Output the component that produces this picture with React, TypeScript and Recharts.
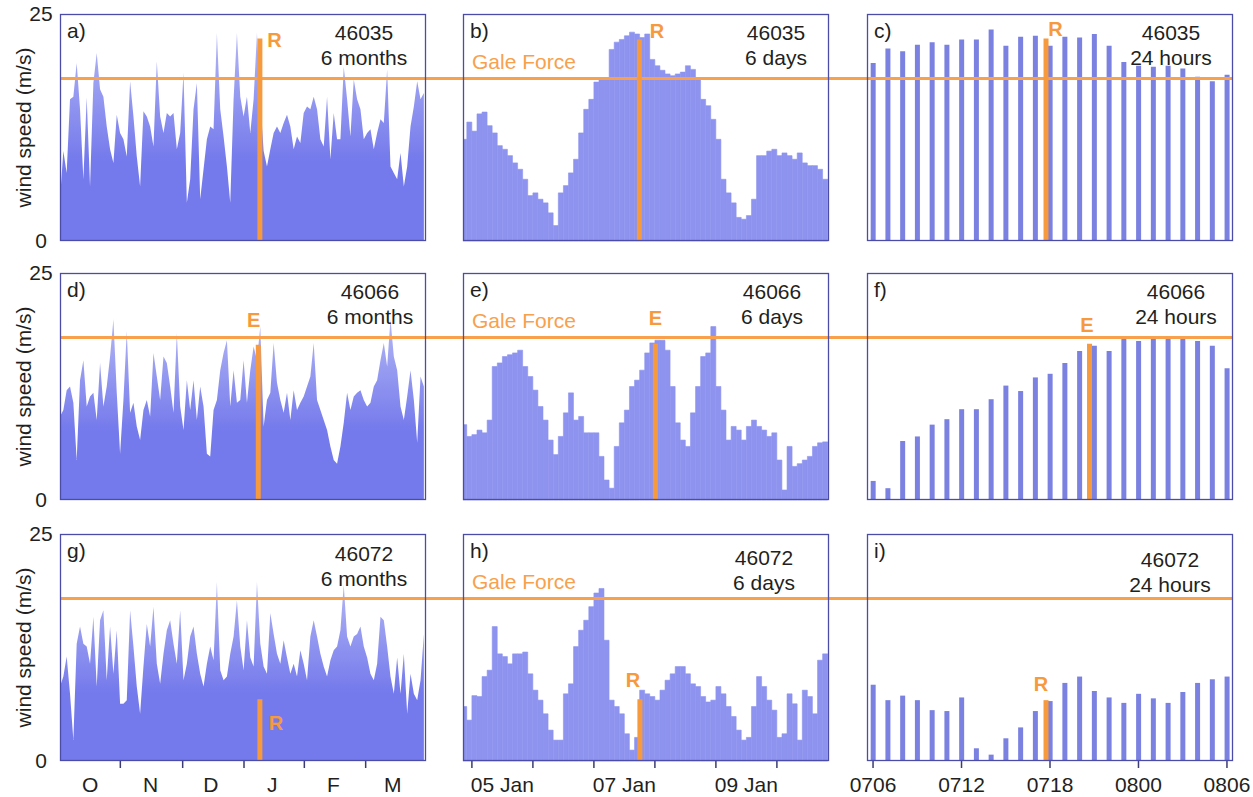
import React from "react";
import { ComposedChart, Area, Bar, XAxis, YAxis, ReferenceLine } from "recharts";

// wind speed (m/s), 6-month panels: one reading every ~1.66 days from 1 Oct
const MONTH_STEP = 1.66;
const MONTHS_46035 = [
  4.6, 9.9, 7.5, 15.6, 15.9, 19.6, 14.5, 6.8, 15.8, 6.0,
  17.4, 20.7, 16.7, 15.9, 12.6, 10.1, 8.6, 13.9, 11.9, 11.2,
  9.3, 17.6, 13.7, 9.3, 6.0, 14.3, 13.7, 12.6, 10.4, 19.8,
  13.7, 11.9, 14.1, 13.7, 14.1, 10.1, 11.9, 18.5, 4.2, 6.8,
  14.5, 17.4, 4.6, 7.9, 11.2, 12.6, 12.3, 22.9, 14.5, 11.5,
  8.2, 4.2, 15.6, 22.9, 15.9, 13.7, 15.9, 11.9, 15.6, 22.9,
  15.6, 9.9, 8.2, 10.1, 11.9, 12.6, 11.9, 13.0, 13.9, 12.6,
  10.1, 11.5, 10.8, 14.1, 14.8, 14.5, 15.9, 14.5, 11.2, 10.4,
  15.9, 9.0, 14.1, 11.2, 11.2, 19.2, 15.6, 11.5, 17.8, 15.6,
  14.5, 11.2, 11.9, 12.3, 10.1, 11.9, 13.4, 13.0, 18.9, 8.2,
  7.5, 6.8, 9.7, 6.0, 8.2, 12.6, 14.8, 17.6, 15.6, 16.3,
];
const MONTHS_46066 = [
  9.2, 9.9, 12.1, 12.5, 10.7, 4.4, 13.2, 15.4, 10.3, 11.4,
  11.8, 8.8, 15.1, 10.3, 12.5, 15.8, 19.9, 11.8, 5.1, 11.0,
  18.6, 9.6, 10.7, 8.1, 6.6, 9.9, 11.0, 9.2, 16.2, 13.6,
  11.0, 15.8, 15.1, 12.5, 9.6, 18.4, 10.3, 7.7, 13.2, 9.9,
  13.2, 8.8, 12.5, 10.3, 5.1, 4.8, 9.9, 11.0, 14.3, 16.2,
  17.6, 10.3, 14.3, 10.7, 11.0, 15.4, 10.7, 14.3, 16.9, 15.4,
  19.1, 8.1, 11.0, 11.8, 17.3, 12.9, 11.0, 9.6, 11.8, 8.8,
  12.1, 9.9, 10.7, 11.4, 12.5, 13.6, 17.3, 11.0, 9.9, 8.8,
  7.7, 5.9, 4.4, 4.0, 5.9, 8.5, 11.8, 9.9, 11.4, 11.8,
  12.1, 11.0, 10.3, 10.7, 12.5, 13.2, 15.4, 17.3, 14.7, 19.9,
  15.8, 14.3, 10.3, 8.8, 11.4, 14.3, 11.0, 6.3, 13.6, 12.5,
];
const MONTHS_46072 = [
  8.2, 9.3, 11.5, 7.4, 2.3, 12.9, 14.8, 12.9, 12.6, 10.7,
  15.9, 8.2, 15.5, 16.6, 8.9, 14.8, 9.6, 14.4, 6.3, 6.3,
  6.7, 16.6, 12.6, 8.2, 5.2, 10.4, 15.1, 12.6, 17.0, 10.7,
  8.5, 11.8, 14.4, 15.5, 12.9, 10.7, 16.6, 8.9, 10.7, 13.7,
  14.8, 11.8, 9.6, 8.2, 10.7, 12.6, 11.1, 19.7, 10.0, 8.9,
  9.3, 11.8, 13.7, 17.7, 12.6, 10.0, 15.5, 11.4, 10.4, 19.7,
  12.9, 10.4, 9.6, 16.3, 14.0, 11.8, 10.7, 13.3, 11.4, 9.6,
  10.7, 9.3, 12.2, 10.7, 8.9, 13.7, 15.5, 13.7, 11.8, 10.4,
  9.3, 11.1, 12.2, 12.6, 14.4, 19.4, 13.7, 12.6, 13.7, 14.0,
  14.8, 12.6, 11.4, 9.6, 8.9, 10.7, 15.9, 15.5, 12.6, 9.3,
  7.4, 11.4, 7.4, 11.8, 5.2, 9.6, 7.4, 6.7, 8.9, 14.0,
];

// 6-day panels: every 2 h, hours counted from 05 Jan 00:00
const DAY_T0 = -3;
const DAY_STEP = 2;
const DAYS_46035 = [
  11.2, 13.1, 12.1, 14.0, 14.2, 12.7, 11.9, 10.5, 10.1, 9.4,
  8.6, 7.9, 6.8, 5.0, 5.3, 4.6, 4.2, 3.1, 1.7, 5.3,
  6.1, 7.5, 9.0, 11.9, 14.5, 15.6, 17.5, 17.8, 17.8, 21.1,
  21.9, 22.2, 22.6, 23.0, 22.8, 22.4, 22.8, 20.0, 19.3, 18.8,
  18.4, 18.2, 18.4, 18.6, 19.3, 18.9, 17.8, 15.6, 14.9, 13.4,
  11.2, 6.8, 5.3, 4.2, 2.6, 2.4, 2.8, 4.6, 9.4, 9.4,
  9.9, 10.1, 9.4, 9.7, 9.4, 9.0, 9.7, 8.6, 8.3, 8.3,
  7.9, 6.8,
];
const DAYS_46066 = [
  8.3, 7.0, 7.2, 7.7, 7.4, 8.8, 14.7, 15.1, 15.8, 16.0,
  16.2, 16.5, 14.7, 13.6, 12.1, 10.3, 8.8, 6.6, 5.0, 7.0,
  9.6, 11.8, 8.8, 9.2, 7.4, 7.4, 7.4, 4.8, 2.2, 1.3,
  5.9, 8.5, 9.9, 12.5, 13.2, 14.3, 16.2, 17.3, 17.6, 17.6,
  16.5, 12.5, 8.5, 6.6, 5.9, 9.6, 12.5, 15.8, 16.2, 19.1,
  12.5, 9.9, 6.6, 8.1, 7.7, 6.6, 8.1, 8.8, 8.1, 7.7,
  7.0, 7.4, 4.4, 1.1, 5.9, 3.7, 4.0, 4.4, 4.8, 5.9,
  6.3, 6.4,
];
const DAYS_46072 = [
  6.0, 4.5, 7.2, 7.1, 9.3, 10.0, 14.8, 11.8, 11.5, 10.7,
  11.8, 11.8, 12.0, 9.6, 7.8, 6.7, 5.2, 3.4, 2.3, 2.3,
  7.4, 8.5, 12.6, 14.4, 15.5, 17.0, 18.5, 19.0, 13.3, 6.7,
  6.0, 5.2, 3.0, 1.2, 2.6, 7.8, 7.4, 7.1, 6.7, 7.8,
  8.9, 9.6, 10.4, 10.4, 9.6, 8.5, 8.2, 7.1, 6.5, 6.7,
  8.2, 7.4, 6.0, 4.9, 3.4, 2.3, 2.6, 6.0, 9.3, 8.2,
  6.7, 5.6, 2.6, 3.0, 7.4, 6.3, 2.3, 7.8, 7.1, 5.2,
  11.1, 11.8,
];

// 24-hour panels: hourly, 07 Jan 06:00 (=6) to 08 Jan 06:00 (=30)
const HOURS = [6, 7, 8, 9, 10, 11, 12, 13, 14, 15, 16, 17, 18, 19, 20, 21, 22, 23, 24, 25, 26, 27, 28, 29, 30];
const HOURS_46035 = [19.6, 21.2, 20.9, 21.6, 21.9, 21.6, 22.2, 22.2, 23.3, 21.5, 22.5, 22.6, 21.5, 22.5, 22.4, 22.8, 21.5, 19.7, 19.3, 19.2, 19.3, 19.0, 18.1, 17.6, 18.3];
const HOURS_46066 = [2.1, 1.3, 6.5, 7.0, 8.3, 8.9, 10.0, 10.0, 11.1, 12.6, 12.0, 13.5, 13.9, 15.1, 16.4, 17.0, 16.4, 17.9, 17.5, 17.9, 17.9, 18.0, 17.5, 17.0, 14.5];
const HOURS_46072 = [8.4, 6.7, 7.2, 6.7, 5.6, 5.5, 7.0, 1.4, 0.7, 2.5, 3.7, 5.5, 6.6, 8.6, 9.3, 7.7, 7.0, 6.4, 7.4, 6.9, 6.4, 7.6, 8.6, 9.0, 9.3];

const GALE_FORCE = 17.9;
const STATIONS = ["46035", "46066", "46072"];
const SPANS = ["6 months", "6 days", "24 hours"];
const LETTERS = [["a)", "b)", "c)"], ["d)", "e)", "f)"], ["g)", "h)", "i)"]];

const MONTH_STARTS = [30, 61, 91.5, 121.5, 152];
const MONTH_MIDS = [15, 45, 75, 105.5, 136, 165.5];
const MONTH_LABELS = ["O", "N", "D", "J", "F", "M"];
const DAY_STARTS = [0, 24, 48, 72, 96, 120];
const DAY_MIDS = [12, 60, 108];
const DAY_LABELS = ["05 Jan", "07 Jan", "09 Jan"];
const HOUR_TICKS = [6, 12, 18, 24, 30];
const HOUR_LABELS = ["0706", "0712", "0718", "0800", "0806"];

// event markers per panel: letter, time (panel x units), height (m/s)
const MARK_TEXT = [["R", "R", "R"], ["E", "E", "E"], ["R", "R", "R"]];
const MARK_X = [[99.4, 65.9, 17.73], [98.6, 72.2, 20.68], [99.4, 66.1, 17.73]];
const MARK_TOP = [[22.3, 22.2, 22.3], [17.1, 17.2, 17.2], [6.8, 6.8, 6.7]];

// layout
const COL_X = [60, 463, 867];
const ROW_Y = [14, 273, 534];
const BOX_W = 366;
const BOX_H = 227;
const Y_AXIS_W = 60;
const X_AXIS_H = 40;
const PAD_V = 14;
const PAD_SIDE = 30;
const FONT = '"Liberation Sans", Arial, sans-serif';
const INK = "#231f20";
const FRAME = "#4b4ba8";
const GALE = "#f8a04c";
const MARK = "#f7993d";
const FILLS = ["#7479ec", "#8d93ee", "#7a81e0"];
const MARK_OFFSET = [
  [[14.5, 8], [17.5, -1], [9.5, -3]],
  [[-4.5, -18], [0, -19], [-2.5, -12]],
  [[16, 31], [-7, -12], [-5, -9]],
];
const TEXT_POS = [
  [[304, 25.5], [313, 25.5], [304, 25.5]],
  [[310, 26], [309, 26], [309, 26]],
  [[304, 26.5], [301, 31], [303, 33]],
];

const MONTH_ROWS = [MONTHS_46035, MONTHS_46066, MONTHS_46072];
const DAY_ROWS = [DAYS_46035, DAYS_46066, DAYS_46072];
const HOUR_ROWS = [HOURS_46035, HOURS_46066, HOURS_46072];

const AXES = [
  { domain: [0, 182], starts: MONTH_STARTS, mids: MONTH_MIDS, labels: MONTH_LABELS },
  { domain: [-3.5, 140.5], starts: DAY_STARTS, mids: DAY_MIDS, labels: DAY_LABELS },
  { domain: [5.59, 30.41], starts: HOUR_TICKS, mids: HOUR_TICKS, labels: HOUR_LABELS },
];

function seriesFor(row: number, col: number) {
  if (col === 0) return MONTH_ROWS[row].map((v, i) => ({ t: i * MONTH_STEP, v }));
  if (col === 1) return DAY_ROWS[row].map((v, i) => ({ t: DAY_T0 + i * DAY_STEP, v }));
  return HOURS.map((h, i) => ({ t: h, v: HOUR_ROWS[row][i] }));
}

const BottomTick = (props: any) => {
  const { x, y, payload, starts, mids, labels } = props;
  const v = payload.value;
  const li = mids.indexOf(v);
  return (
    <g>
      {starts.includes(v) && <line x1={x} x2={x} y1={y} y2={y + 7} stroke="#3c3c70" strokeWidth={1.5} />}
      {li >= 0 && (
        <text x={x} y={y + 31} textAnchor="middle" fontSize={21} fontFamily={FONT} fill={INK}>
          {labels[li]}
        </text>
      )}
    </g>
  );
};

const YTick = (props: any) => (
  <text x={props.x - 11} y={props.y} dy={7} textAnchor="middle" fontSize={21} fontFamily={FONT} fill={INK}>
    {props.payload.value}
  </text>
);

const YTitle = (props: any) => {
  const vb = props.viewBox;
  const cx = vb.x + vb.width / 2 - 7;
  const cy = vb.y + vb.height / 2;
  return (
    <text x={cx} y={cy} transform={`rotate(-90 ${cx} ${cy})`} textAnchor="middle" dominantBaseline="central" fontSize={21} fontFamily={FONT} fill={INK}>
      wind speed (m/s)
    </text>
  );
};

const MarkLabel = (props: any) => {
  const vb = props.viewBox;
  return (
    <text x={vb.x + props.dx} y={vb.y + props.dy} textAnchor="middle" fontWeight="bold" fontSize={20} fontFamily={FONT} fill={MARK}>
      {props.text}
    </text>
  );
};

function Panel({ row, col }: { row: number; col: number }) {
  const left = COL_X[col];
  const ext = col < 2 ? COL_X[col + 1] - (left + BOX_W) : PAD_SIDE;
  const padL = col === 0 ? 0 : PAD_SIDE;
  const yW = col === 0 ? Y_AXIS_W : 0;
  const bottomRow = row === 2;
  const padB = bottomRow ? 0 : PAD_V;
  const axis = AXES[col];
  const ticks = Array.from(new Set([...axis.starts, ...axis.mids])).sort((a, b) => a - b);
  const data = seriesFor(row, col);
  const [mdx, mdy] = MARK_OFFSET[row][col];
  const gradId = `fade-${row}`;

  return (
    <div style={{ position: "absolute", left: left - yW - padL, top: ROW_Y[row] - PAD_V }}>
      <ComposedChart
        width={padL + yW + BOX_W + ext}
        height={PAD_V + BOX_H + padB + (bottomRow ? X_AXIS_H : 0)}
        data={data}
        margin={{ top: PAD_V, right: ext, bottom: padB, left: padL }}
      >
        <defs>
          <linearGradient id={gradId} x1="0" y1="0" x2="0" y2="1">
            <stop offset="0%" stopColor="#b4b7f4" />
            <stop offset="40%" stopColor="#8a8fef" />
            <stop offset="62%" stopColor={FILLS[0]} />
            <stop offset="100%" stopColor={FILLS[0]} />
          </linearGradient>
        </defs>
        <XAxis
          type="number"
          dataKey="t"
          domain={axis.domain}
          allowDataOverflow
          ticks={ticks}
          interval={0}
          hide={!bottomRow}
          height={X_AXIS_H}
          axisLine={false}
          tickLine={false}
          tickSize={0}
          tickMargin={0}
          tick={<BottomTick starts={axis.starts} mids={axis.mids} labels={axis.labels} />}
        />
        <YAxis
          domain={[0, 25]}
          ticks={[0, 25]}
          hide={col !== 0}
          width={Y_AXIS_W}
          axisLine={false}
          tickLine={false}
          tick={<YTick />}
          label={<YTitle />}
        />
        {col === 0 && (
          <Area type="linear" dataKey="v" stroke="none" fill={`url(#${gradId})`} fillOpacity={1} dot={false} activeDot={false} isAnimationActive={false} />
        )}
        {col === 1 && (
          <Bar dataKey="v" fill={FILLS[1]} stroke={FILLS[1]} strokeWidth={0.6} barSize={5} isAnimationActive={false} />
        )}
        {col === 2 && <Bar dataKey="v" fill={FILLS[2]} barSize={5} isAnimationActive={false} />}
        <ReferenceLine
          y={GALE_FORCE}
          stroke={GALE}
          strokeWidth={3}
          shape={(p: any) => (
            <line x1={p.x1} y1={p.y1} x2={p.x2 + (col < 2 ? ext : 0)} y2={p.y2} stroke={GALE} strokeWidth={3} />
          )}
        />
        <ReferenceLine
          segment={[
            { x: MARK_X[row][col], y: 0 },
            { x: MARK_X[row][col], y: MARK_TOP[row][col] },
          ]}
          stroke={MARK}
          strokeWidth={5}
          label={<MarkLabel text={MARK_TEXT[row][col]} dx={mdx} dy={mdy} />}
        />
      </ComposedChart>
    </div>
  );
}

export default function App() {
  const cells: { row: number; col: number }[] = [];
  for (let r = 0; r < 3; r++) for (let c = 0; c < 3; c++) cells.push({ row: r, col: c });

  return (
    <div style={{ position: "absolute", left: 0, top: 0, width: 1253, height: 797, background: "#fff", fontFamily: FONT }}>
      {cells.map(({ row, col }) => (
        <Panel key={`${row}-${col}`} row={row} col={col} />
      ))}
      <svg width={1253} height={797} style={{ position: "absolute", left: 0, top: 0, pointerEvents: "none" }}>
        {cells.map(({ row, col }) => {
          const x = COL_X[col];
          const y = ROW_Y[row];
          const [tx, ty] = TEXT_POS[row][col];
          return (
            <g key={`t-${row}-${col}`} fontFamily={FONT} fontSize={21}>
              <rect x={x + 0.5} y={y + 0.5} width={BOX_W - 1} height={BOX_H - 1} fill="none" stroke={FRAME} strokeWidth={1.3} />
              <text x={x + 7} y={y + 24} fill={INK}>{LETTERS[row][col]}</text>
              <text x={x + tx} y={y + ty} textAnchor="middle" fill={INK}>{STATIONS[row]}</text>
              <text x={x + tx} y={y + ty + 25} textAnchor="middle" fill={INK}>{SPANS[col]}</text>
              {col === 1 && (
                <text x={x + 9} y={y + 55} fill={GALE}>Gale Force</text>
              )}
            </g>
          );
        })}
      </svg>
    </div>
  );
}
